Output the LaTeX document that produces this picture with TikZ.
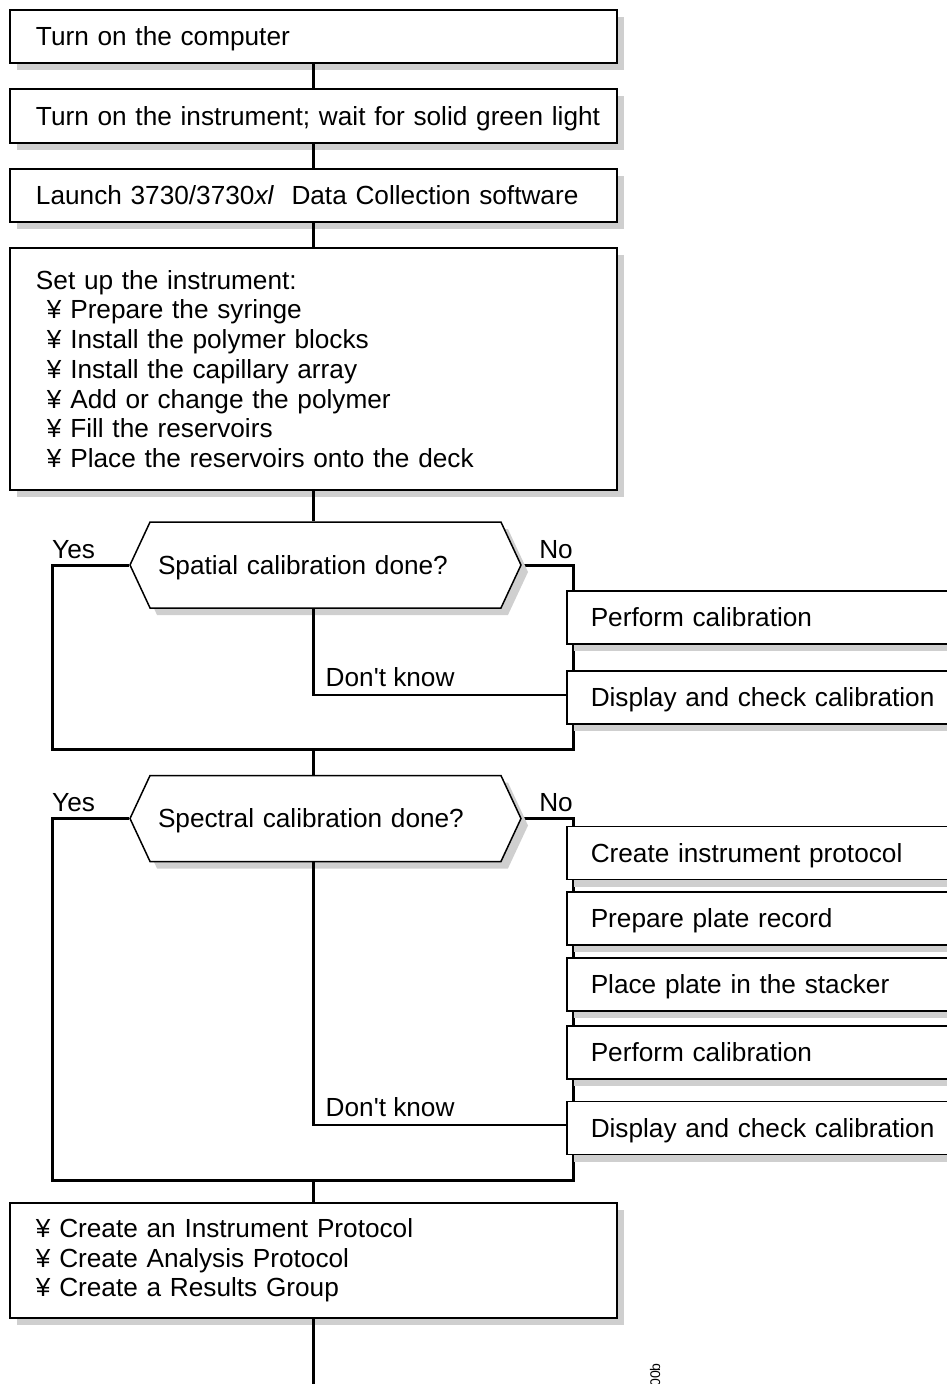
\documentclass[tikz,border=0pt]{standalone}
\usepackage{fontspec}
\setmainfont{Liberation Sans}
\usetikzlibrary{shapes.symbols,shadows,backgrounds}
\definecolor{shadegray}{gray}{0.81}
\tikzset{
    flowtext/.style={font=\fontsize{26.2}{29.7}\selectfont},
    oneline/.style={text height=18.8pt,text depth=0pt},
    boxshadow/.style={drop shadow={shadow xshift=7pt,shadow yshift=-7pt,fill=shadegray,opacity=1}},
    stepbox/.style={flowtext,draw,line width=1.5pt,fill=white,boxshadow,
        text width=581pt,inner xsep=13pt,inner ysep=0pt,align=left,
        execute at begin node={\leftskip=13pt}},
    sidebox/.style={flowtext,oneline,draw,line width=1.5pt,fill=white,boxshadow,anchor=west,
        minimum height=53pt,text width=380pt,inner xsep=24pt,inner ysep=0pt,align=left},
    query/.style={flowtext,oneline,signal,signal to=west and east,signal pointer angle=130,
        draw,line width=1.5pt,fill=white,boxshadow,minimum width=391pt,minimum height=86pt,
        inner sep=0pt,text width=335pt,align=left},
    trunk/.style={line width=2.5pt},
    ring/.style={line width=3pt},
    answer/.style={flowtext,inner sep=0pt},
}

\begin{document}
\begin{tikzpicture}[x=1pt,y=-1pt]
    \useasboundingbox (0,0) rectangle (947,1384);
    \clip (0,0) rectangle (947,1384);

    % main column
    \node[stepbox,oneline,minimum height=53pt] (b1) at (313.5,36.5) {Turn on the computer};
    \node[stepbox,oneline,minimum height=54pt] (b2) at (313.5,116) {Turn on the instrument; wait for solid green light};
    \node[stepbox,oneline,minimum height=53pt] (b3) at (313.5,195.5) {Launch 3730/3730\textit{xl}\ \ Data Collection software};
    \node[stepbox,minimum height=242pt] (b4) at (313.5,369) {Set up the instrument:\\
        \hspace*{11pt}¥ Prepare the syringe\\
        \hspace*{11pt}¥ Install the polymer blocks\\
        \hspace*{11pt}¥ Install the capillary array\\
        \hspace*{11pt}¥ Add or change the polymer\\
        \hspace*{11pt}¥ Fill the reservoirs\\
        \hspace*{11pt}¥ Place the reservoirs onto the deck};

    % spatial calibration
    \node[query] (q1) at (325.5,565) {Spatial calibration done?};
    \node[sidebox] (s1) at (566,617.5) {Perform calibration};
    \node[sidebox] (s2) at (566,697.5) {Display and check calibration};
    \coordinate (r1l) at (52,749);
    \coordinate (r1r) at (573,749);

    % spectral calibration
    \node[query] (q2) at (325.5,818.5) {Spectral calibration done?};
    \node[sidebox] (t1) at (566,853) {Create instrument protocol};
    \node[sidebox] (t2) at (566,918.5) {Prepare plate record};
    \node[sidebox] (t3) at (566,984.5) {Place plate in the stacker};
    \node[sidebox] (t4) at (566,1052.5) {Perform calibration};
    \node[sidebox] (t5) at (566,1128) {Display and check calibration};
    \coordinate (r2l) at (52,1180);
    \coordinate (r2r) at (573,1180);

    \node[stepbox,minimum height=115pt] (b5) at (313.5,1260.5) {¥ Create an Instrument Protocol\\
        ¥ Create Analysis Protocol\\
        ¥ Create a Results Group};
    \coordinate (tail) at (b5.south |- 0,1390);

    \begin{scope}[on background layer]
        \draw[ring] (q1.west) -| (r1l) -- (r1r) |- (q1.east);
        \draw[ring] (q2.west) -| (r2l) -- (r2r) |- (q2.east);
    \end{scope}

    \draw[trunk] (b1.south) -- (b2.north);
    \draw[trunk] (b2.south) -- (b3.north);
    \draw[trunk] (b3.south) -- (b4.north);
    \draw[trunk] (b4.south) -- (b4.south |- q1.north);
    \draw[trunk] (b4.south |- q1.south) |- ([yshift=2.5pt]s2.west);
    \draw[trunk] (b4.south |- r1l) -- (b4.south |- q2.north);
    \draw[trunk] (b4.south |- q2.south) |- ([yshift=3pt]t5.west);
    \draw[trunk] (b4.south |- r2l) -- (b5.north);
    \draw[trunk] (b5.south) -- (tail);

    \node[answer,anchor=base west] (yes1) at ([yshift=7pt]r1l |- q1.west) {Yes};
    \node[answer,anchor=base east] (no1) at ([yshift=7pt]r1r |- q1.east) {No};
    \node[answer,anchor=base west] (dk1) at ([xshift=12pt,yshift=11.5pt]b4.south |- s2.west) {Don\textquotesingle t know};
    \node[answer,anchor=base west] (yes2) at ([yshift=7pt]r2l |- q2.west) {Yes};
    \node[answer,anchor=base east] (no2) at ([yshift=7pt]r2r |- q2.east) {No};
    \node[answer,anchor=base west] (dk2) at ([xshift=12pt,yshift=12pt]b4.south |- t5.west) {Don\textquotesingle t know};

    \node[font=\fontsize{14}{16}\selectfont,rotate=90,anchor=east,inner sep=0pt] (code) at (655,1363) {00b};
\end{tikzpicture}
\end{document}
